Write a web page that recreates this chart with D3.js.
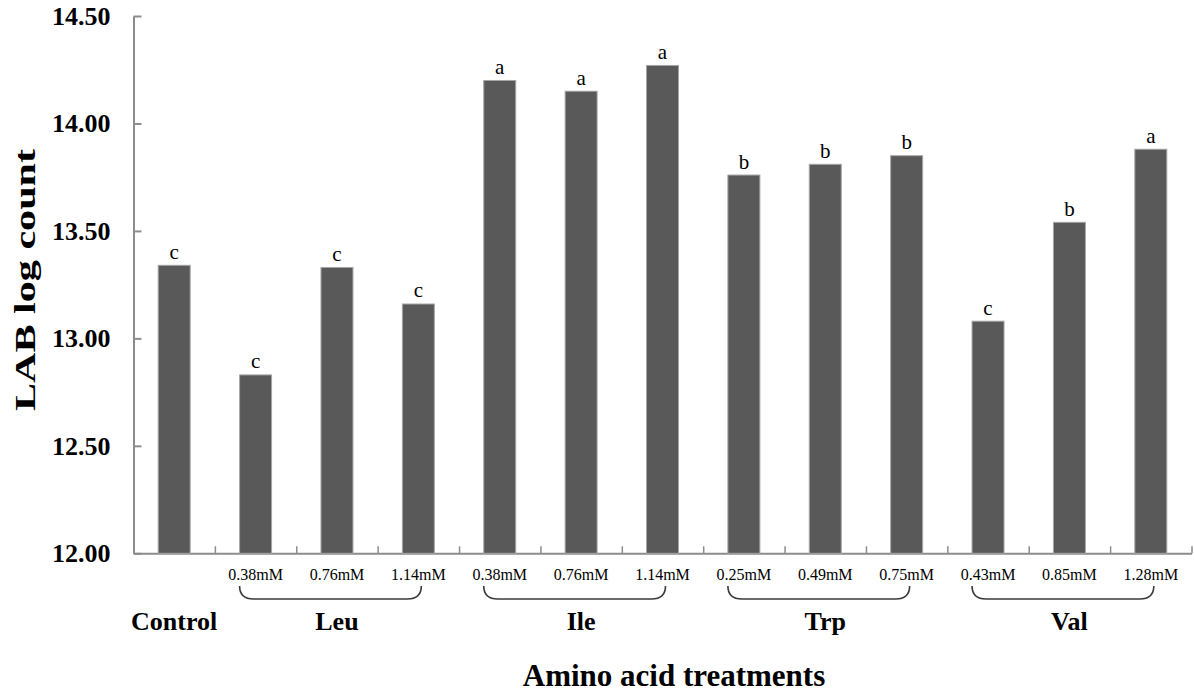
<!DOCTYPE html>
<html>
<head>
<meta charset="utf-8">
<script src="https://cdn.jsdelivr.net/npm/d3@7"></script>
<style>
  body { margin: 0; background: #fff; }
  text { font-family: "Liberation Serif", "Times New Roman", serif; }
</style>
</head>
<body>
<div id="viz"></div>
<script>
//==============================================================================
// Data
var groups = ["Control", "Leu", "Leu", "Leu", "Ile", "Ile", "Ile", "Trp", "Trp", "Trp", "Val", "Val", "Val"];
var doses = ["", "0.38mM", "0.76mM", "1.14mM", "0.38mM", "0.76mM", "1.14mM", "0.25mM", "0.49mM", "0.75mM", "0.43mM", "0.85mM", "1.28mM"];
var lab_counts = [13.34, 12.83, 13.33, 13.16, 14.20, 14.15, 14.27, 13.76, 13.81, 13.85, 13.08, 13.54, 13.88];
var letters = ["c", "c", "c", "c", "a", "a", "a", "b", "b", "b", "c", "b", "a"];
var y_ticks = [12.00, 12.50, 13.00, 13.50, 14.00, 14.50];
var group_names = ["Control", "Leu", "Ile", "Trp", "Val"];

//==============================================================================
// Layout
var width = 1194, height = 694;
var x_left = 133.5, x_right = 1191.5;
var y_bottom = 553.3, y_top = 16;
var axis_color = "#8c8c8c";
var bar_color = "#595959";

var ids = d3.range(lab_counts.length);

var svg = d3.select("#viz")
	.append("svg")
	.attr("width", width)
	.attr("height", height);

svg.append("rect")
	.attr("width", width)
	.attr("height", height)
	.attr("fill", "#fff");

var x = d3.scaleBand()
	.domain(ids)
	.range([x_left, x_right])
	.paddingInner(0.607)
	.paddingOuter(0.3035);

var y = d3.scaleLinear()
	.domain([12, 14.5])
	.range([y_bottom, y_top]);

var centre = function(i) { return x(i) + x.bandwidth() / 2; };

//==============================================================================
// Y axis
var yAxis = d3.axisLeft(y)
	.tickValues(y_ticks)
	.tickFormat(d3.format(".2f"))
	.tickSizeInner(-8)
	.tickSizeOuter(0)
	.tickPadding(23);

var gy = svg.append("g")
	.attr("transform", "translate(" + x_left + ",0)")
	.call(yAxis);
gy.select(".domain").attr("stroke", axis_color).attr("stroke-width", 2);
gy.selectAll(".tick line").attr("stroke", axis_color).attr("stroke-width", 2);
gy.selectAll(".tick text")
	.attr("fill", "#000")
	.attr("font-size", 26)
	.attr("font-weight", "bold")
	.attr("font-family", "Liberation Serif, serif");

//==============================================================================
// X axis: baseline with small inward ticks between categories
var xAxis = d3.axisBottom(d3.scaleLinear().domain([0, ids.length]).range([x_left, x_right]))
	.tickValues(d3.range(1, ids.length + 1))
	.tickSizeInner(-7)
	.tickSizeOuter(0)
	.tickFormat("");

var gx = svg.append("g")
	.attr("transform", "translate(0," + y_bottom + ")")
	.call(xAxis);
gx.select(".domain").attr("stroke", axis_color).attr("stroke-width", 2);
gx.selectAll(".tick line").attr("stroke", axis_color).attr("stroke-width", 1.5);

//==============================================================================
// Bars
var bars = svg.append("g").attr("class", "bars");
bars.selectAll("rect")
	.data(ids)
	.join("rect")
	.attr("x", function(i) { return x(i); })
	.attr("y", function(i) { return y(lab_counts[i]); })
	.attr("width", x.bandwidth())
	.attr("height", function(i) { return y(12) - y(lab_counts[i]); })
	.attr("fill", bar_color)
	.attr("stroke", "#a6a6a6")
	.attr("stroke-width", 1);

// significance letters
svg.append("g")
	.selectAll("text")
	.data(ids)
	.join("text")
	.attr("x", centre)
	.attr("y", function(i) { return y(lab_counts[i]) - 6.5; })
	.attr("text-anchor", "middle")
	.attr("font-size", 21)
	.text(function(i) { return letters[i]; });

//==============================================================================
// Dose labels under the axis
svg.append("g")
	.selectAll("text")
	.data(ids.filter(function(i) { return doses[i] !== ""; }))
	.join("text")
	.attr("x", centre)
	.attr("y", 580)
	.attr("text-anchor", "middle")
	.attr("font-size", 16)
	.text(function(i) { return doses[i]; });

// Braces and group names
var group_info = group_names.map(function(g) {
	var members = ids.filter(function(i) { return groups[i] === g; });
	return { name: g, members: members };
});

var brace = function(x0, x1) {
	var top = 586, bot = 599, r = 14;
	return "M" + x0 + "," + top +
		" Q" + x0 + "," + bot + " " + (x0 + r) + "," + bot +
		" L" + (x1 - r) + "," + bot +
		" Q" + x1 + "," + bot + " " + x1 + "," + top;
};

svg.append("g")
	.selectAll("path")
	.data(group_info.filter(function(d) { return d.members.length > 1; }))
	.join("path")
	.attr("d", function(d) {
		return brace(centre(d.members[0]) - 16, centre(d.members[d.members.length - 1]) + 3);
	})
	.attr("fill", "none")
	.attr("stroke", "#3a3a3a")
	.attr("stroke-width", 1.6);

svg.append("g")
	.selectAll("text")
	.data(group_info)
	.join("text")
	.attr("x", function(d) { return centre(d.members[Math.floor(d.members.length / 2)]); })
	.attr("y", 630)
	.attr("text-anchor", "middle")
	.attr("font-size", 26)
	.attr("font-weight", "bold")
	.text(function(d) { return d.name; });

//==============================================================================
// Axis titles
svg.append("text")
	.attr("transform", "translate(35,280) rotate(-90)")
	.attr("text-anchor", "middle")
	.attr("font-size", 30)
	.attr("font-weight", "bold")
	.attr("textLength", 262)
	.attr("lengthAdjust", "spacingAndGlyphs")
	.text("LAB log count");

svg.append("text")
	.attr("x", 674)
	.attr("y", 686)
	.attr("text-anchor", "middle")
	.attr("font-size", 31)
	.attr("font-weight", "bold")
	.text("Amino acid treatments");
</script>
</body>
</html>
